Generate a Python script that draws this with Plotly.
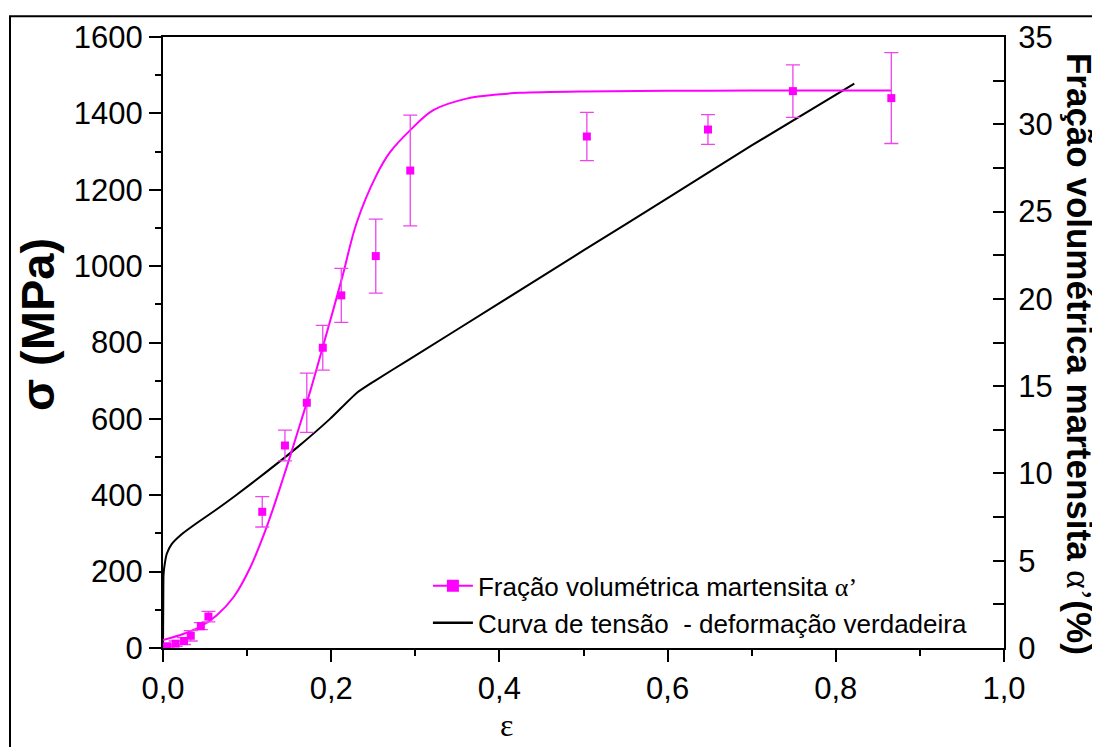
import plotly.graph_objects as go

# --- data ---
eps_pts = [0.005, 0.015, 0.025, 0.033, 0.045, 0.054, 0.118, 0.145, 0.171, 0.190,
           0.212, 0.253, 0.294, 0.504, 0.648, 0.749, 0.866]
frac_pts = [0.1, 0.25, 0.4, 0.7, 1.25, 1.8, 7.8, 11.6, 14.05, 17.2,
            20.2, 22.45, 27.35, 29.3, 29.7, 31.9, 31.5]
frac_err = [0.1, 0.15, 0.2, 0.3, 0.2, 0.3, 0.87, 0.88, 1.7, 1.28,
            1.55, 2.12, 3.17, 1.38, 0.85, 1.5, 2.6]

fit_eps = [0, 0.024, 0.044, 0.064, 0.084, 0.103, 0.123, 0.143, 0.159, 0.175,
           0.1906, 0.2125, 0.2303, 0.254, 0.27, 0.2937, 0.3214, 0.361, 0.4007, 0.4245,
           0.5, 0.6, 0.7, 0.8, 0.866]
fit_val = [0.46, 0.80, 1.21, 1.88, 2.92, 4.54, 6.9, 9.75, 12.2, 14.7,
           17.34, 21.13, 24.36, 27.1, 28.4, 29.65, 30.81, 31.47, 31.72, 31.8,
           31.88, 31.92, 31.93, 31.93, 31.93]

ss_eps = [0, 0.0004, 0.0006, 0.0015, 0.0044, 0.0103, 0.0222, 0.042, 0.0618, 0.0856,
          0.12, 0.16, 0.1986, 0.2303, 0.25, 0.2915, 0.4, 0.5, 0.6, 0.7, 0.822]
ss_sig = [0, 151, 190, 211, 246, 272, 298, 330, 360, 398,
          456, 526, 600, 668, 697, 754, 903, 1041, 1178, 1316, 1478]

name_frac = "Fração volumétrica martensita <span style=\"font-family:'Liberation Serif'\">α’</span>"
name_ss = "Curva de tensão  - deformação verdadeira"

PINK = "#FF00FF"
FONT = "Liberation Sans, Arial, sans-serif"

fig = go.Figure()

fig.add_trace(go.Scatter(
    x=ss_eps, y=ss_sig, mode="lines", line=dict(color="black", width=2, shape="spline", smoothing=0.5),
    showlegend=False, yaxis="y"))

fig.add_trace(go.Scatter(
    x=fit_eps, y=fit_val, mode="lines", line=dict(color=PINK, width=2, shape="spline", smoothing=1.0),
    showlegend=False, yaxis="y2"))

fig.add_trace(go.Scatter(
    x=eps_pts, y=frac_pts, mode="markers", yaxis="y2",
    marker=dict(symbol="square", size=8, color=PINK),
    error_y=dict(type="data", array=frac_err, color="#EE44EE", thickness=1.3, width=7),
    showlegend=False))

# legend entries
fig.add_trace(go.Scatter(
    x=[None], y=[None], mode="lines+markers", name=name_frac, yaxis="y2",
    line=dict(color=PINK, width=2), marker=dict(symbol="square", size=12, color=PINK)))
fig.add_trace(go.Scatter(
    x=[None], y=[None], mode="lines", name=name_ss, yaxis="y",
    line=dict(color="black", width=2.5)))

axis_common = dict(showline=True, linecolor="black", linewidth=2, showgrid=False, zeroline=False,
                   tickfont=dict(family=FONT, size=31, color="black"), tickcolor="black", tickwidth=2)

# the page body adds an 8px offset; figure is sized so that the plot lands where the reference has it
fig.update_layout(
    width=1092, height=739,
    paper_bgcolor="white", plot_bgcolor="white",
    margin=dict(l=155, r=96, t=25, b=99),
    separators=", ",
    font=dict(family=FONT, color="black"),
    xaxis=dict(range=[0, 1], dtick=0.2, tickformat=".1f", ticks="outside", ticklen=12, mirror=True,
               minor=dict(dtick=0.1, ticks="outside", ticklen=6, tickcolor="black", tickwidth=2),
               **axis_common),
    yaxis=dict(range=[0, 1600], dtick=200, ticks="outside", ticklen=12,
               minor=dict(dtick=100, ticks="outside", ticklen=6, tickcolor="black", tickwidth=2),
               **axis_common),
    yaxis2=dict(range=[0, 35], dtick=5, ticks="inside", ticklen=11, overlaying="y", side="right",
                minor=dict(dtick=2.5, ticks="inside", ticklen=11, tickcolor="black", tickwidth=2),
                ticklabelstandoff=6,
                **axis_common),
    legend=dict(x=0.315, y=0.14, xanchor="left", yanchor="top", bgcolor="rgba(0,0,0,0)",
                font=dict(family=FONT, size=26, color="black"), tracegroupgap=0, itemwidth=40),
    showlegend=True,
    annotations=[
        dict(text="<b>σ (MPa)</b>", textangle=-90, xref="paper", yref="paper",
             x=(37 - 163) / 841, y=(648 - 323) / 615, xanchor="center", yanchor="middle", showarrow=False,
             font=dict(family=FONT, size=47, color="black")),
        dict(text="<b>Fração volumétrica martensita </b><span style=\"font-family:'Liberation Serif'\">α’</span><b>(%)</b>",
             textangle=90, xref="paper", yref="paper",
             x=(1079 - 163) / 841, y=(648 - 352) / 615, xanchor="center", yanchor="middle", showarrow=False,
             font=dict(family=FONT, size=35, color="black")),
        dict(text="ε", xref="paper", yref="paper", x=(506 - 163) / 841, y=(648 - 726) / 615,
             xanchor="center", yanchor="middle",
             showarrow=False, font=dict(family="Liberation Serif, Times New Roman, serif", size=32, color="black")),
    ],
    shapes=[
        dict(type="rect", xref="paper", yref="paper",
             x0=(10 - 163) / 841, x1=(1110 - 163) / 841, y0=(648 - 760) / 615, y1=(648 - 12) / 615,
             line=dict(color="black", width=2), fillcolor="rgba(0,0,0,0)", layer="below"),
    ],
)

fig.write_html("out.html")
